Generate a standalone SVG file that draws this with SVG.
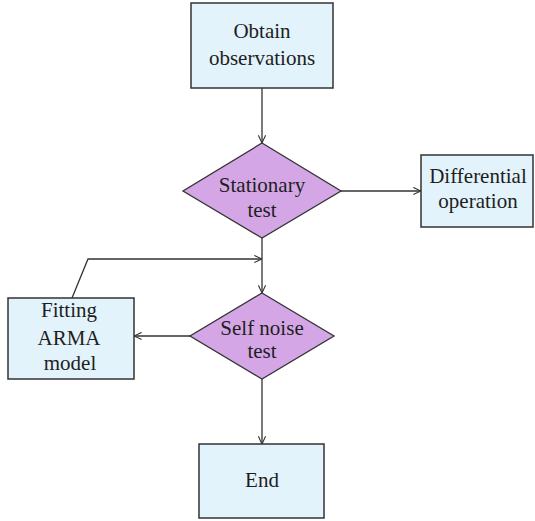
<svg xmlns="http://www.w3.org/2000/svg" width="535" height="521" viewBox="0 0 535 521">
  <defs>
    <marker id="arrow" viewBox="0 0 10 10" refX="9.5" refY="5" markerWidth="9" markerHeight="9" markerUnits="userSpaceOnUse" orient="auto">
      <path d="M1,1 L9.5,5 L1,9" fill="none" stroke="#333" stroke-width="1.2"/>
    </marker>
  </defs>
  <style>
    .box { fill: #e3f3fb; stroke: #333; stroke-width: 1.5; }
    .dia { fill: #d5a6e6; stroke: #333; stroke-width: 1.3; }
    .lbl { font-family: "Liberation Serif", "DejaVu Serif", serif; font-size: 21px; fill: #1e1e1e; text-anchor: middle; }
    .edge { fill: none; stroke: #333; stroke-width: 1.3; marker-end: url(#arrow); }
  </style>
  <rect width="535" height="521" fill="#fff"/>

  <g id="connectors">
    <path class="edge" d="M262,88 L262,143"/>
    <path class="edge" d="M341,191 L421,191"/>
    <path class="edge" d="M262,238 L262,293"/>
    <path class="edge" d="M72,298 L88,259 L262,259"/>
    <path class="edge" d="M190,336 L134,336"/>
    <path class="edge" d="M262,379 L262,444"/>
  </g>

  <g id="obtain">
    <rect class="box" x="191" y="3" width="142" height="85"/>
    <text class="lbl" x="262" y="38">Obtain</text>
    <text class="lbl" x="262" y="65">observations</text>
  </g>

  <g id="stationary">
    <polygon class="dia" points="262,143 341,191 262,238 183,191"/>
    <text class="lbl" x="262" y="192">Stationary</text>
    <text class="lbl" x="262" y="217">test</text>
  </g>

  <g id="differential">
    <rect class="box" x="421" y="155" width="112" height="72"/>
    <text class="lbl" x="478" y="183">Differential</text>
    <text class="lbl" x="478" y="208">operation</text>
  </g>

  <g id="fitting">
    <rect class="box" x="8" y="298" width="126" height="81"/>
    <text class="lbl" x="69" y="317">Fitting</text>
    <text class="lbl" x="69" y="345">ARMA</text>
    <text class="lbl" x="70" y="370">model</text>
  </g>

  <g id="selfnoise">
    <polygon class="dia" points="262,293 334,336 262,379 190,336"/>
    <text class="lbl" x="262" y="335">Self noise</text>
    <text class="lbl" x="262" y="358">test</text>
  </g>

  <g id="end">
    <rect class="box" x="199" y="444" width="125" height="74"/>
    <text class="lbl" x="262" y="487">End</text>
  </g>
</svg>
